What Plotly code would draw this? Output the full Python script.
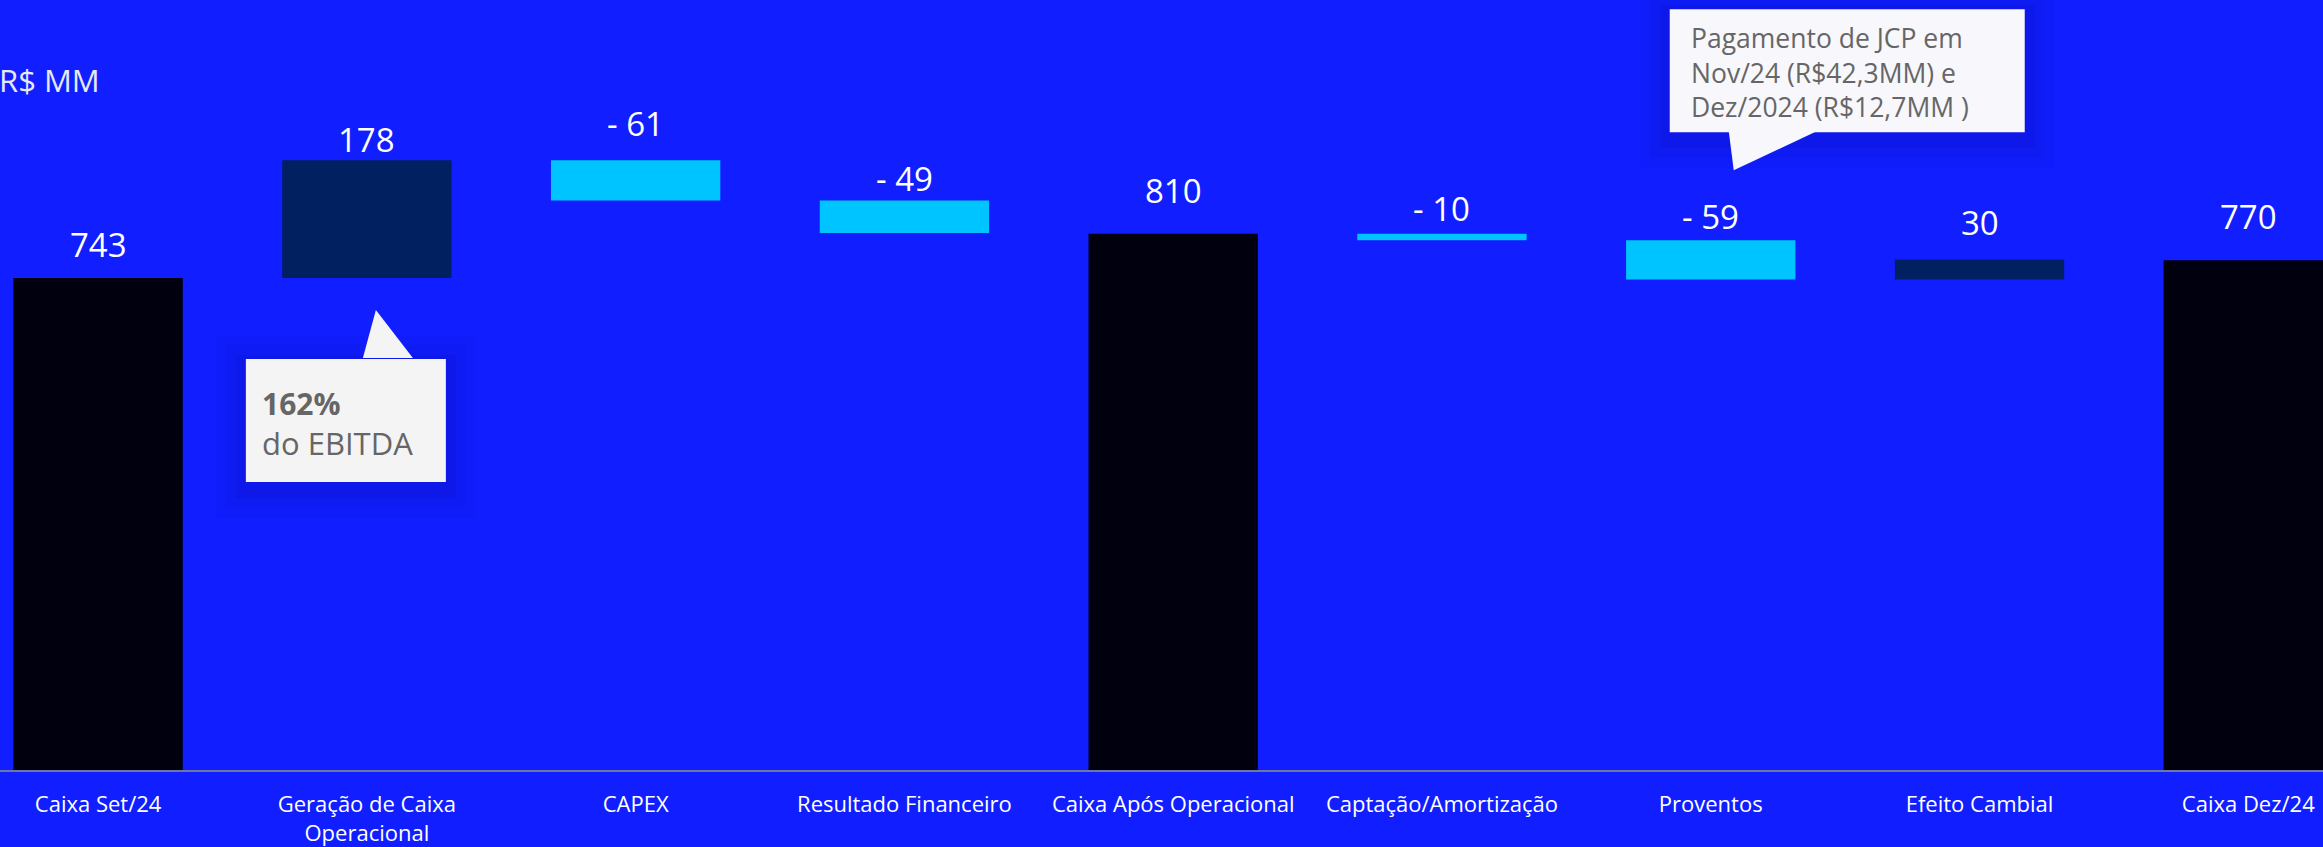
import plotly.graph_objects as go

# Cash bridge, R$ MM
categories = [
    "Caixa Set/24",
    "Geração de Caixa<br>Operacional",
    "CAPEX",
    "Resultado Financeiro",
    "Caixa Após Operacional",
    "Captação/Amortização",
    "Proventos",
    "Efeito Cambial",
    "Caixa Dez/24",
]
measures = ["absolute", "relative", "relative", "relative", "absolute",
            "relative", "relative", "relative", "absolute"]
values = [743, 178, -61, -49, 810, -10, -59, 30, 770]

unit_label = "R$ MM"
ebitda_note = ["162%", "do EBITDA"]
jcp_note = ["Pagamento de JCP em", "Nov/24 (R$42,3MM) e", "Dez/2024 (R$12,7MM )"]

# styling
BG = "#111EFF"
TOTAL = "#00000F"
UP = "#002060"
DOWN = "#00C4FF"
FONT = "Open Sans"
label_shift = [34, 21, 37, 22, 43, 25, 24, 37, 44]

x_idx = list(range(len(categories)))

fig = go.Figure(go.Waterfall(
    x=x_idx,
    y=values,
    measure=measures,
    totals=dict(marker=dict(color=TOTAL)),
    increasing=dict(marker=dict(color=UP)),
    decreasing=dict(marker=dict(color=DOWN)),
    connector=dict(visible=False),
    textinfo="none",
    hoverinfo="skip",
))

# value labels sit above the top edge of each bar
level = 0
annotations = []
for i, (m, v) in enumerate(zip(measures, values)):
    if m == "absolute":
        start, end = 0, v
        level = v
    else:
        start, end = level, level + v
        level = end
    top = max(start, end)
    txt = f"- {abs(v)}" if v < 0 else f"{v}"
    annotations.append(dict(
        x=i, y=top, xref="x", yref="y", text=txt, showarrow=False,
        yanchor="middle", yshift=label_shift[i],
        font=dict(family=FONT, size=33, color="white"),
    ))

# unit caption
annotations.append(dict(
    x=0, y=0.896, xref="paper", yref="paper", text=unit_label,
    showarrow=False, xanchor="left", yanchor="middle", xshift=-3,
    font=dict(family=FONT, size=31, color="#E6E8F5"),
))

shapes = []


def callout(xa, ya, box, tip, fill):
    """Speech-bubble anchored at a data point, geometry in pixels."""
    x0, x1, y0, y1 = box
    for k, a in ((30, 0.025), (20, 0.035), (10, 0.05)):
        shapes.append(dict(
            type="rect", xref="x", yref="y", xsizemode="pixel", ysizemode="pixel",
            xanchor=xa, yanchor=ya, x0=x0 - k, x1=x1 + k, y0=y0 - k - 6, y1=y1 + k - 6,
            fillcolor=f"rgba(0,0,60,{a})", line=dict(width=0),
        ))
    shapes.append(dict(
        type="rect", xref="x", yref="y", xsizemode="pixel", ysizemode="pixel",
        xanchor=xa, yanchor=ya, x0=x0, x1=x1, y0=y0, y1=y1,
        fillcolor=fill, line=dict(width=0),
    ))
    (ax, ay), (bx, by), (cx, cy) = tip
    shapes.append(dict(
        type="path", xref="x", yref="y", xsizemode="pixel", ysizemode="pixel",
        xanchor=xa, yanchor=ya,
        path=f"M {ax},{ay} L {bx},{by} L {cx},{cy} Z",
        fillcolor=fill, line=dict(width=0),
    ))


# EBITDA note under the operating cash generation bar
callout(1, values[0], (-121, 79, -204, -81),
        ((-4, -80), (9, -32), (46, -80)), "#F4F4F4")
annotations.append(dict(
    x=1, y=values[0], xref="x", yref="y", text=f"<b>{ebitda_note[0]}</b>",
    showarrow=False, xanchor="left", yanchor="middle", xshift=-107, yshift=-125,
    font=dict(family=FONT, size=30, color="#666666"),
))
annotations.append(dict(
    x=1, y=values[0], xref="x", yref="y", text=ebitda_note[1],
    showarrow=False, xanchor="left", yanchor="middle", xshift=-107, yshift=-165,
    font=dict(family=FONT, size=31, color="#666666"),
))

# JCP note above the Proventos bar
prov_top = values[4] + values[5]
callout(6, prov_top, (-41, 314, 108, 231),
        ((18, 109), (23, 70), (106, 109)), "#F8F7FC")
for j, line in enumerate(jcp_note):
    annotations.append(dict(
        x=6, y=prov_top, xref="x", yref="y", text=line,
        showarrow=False, xanchor="left", yanchor="middle",
        xshift=-22, yshift=202 - 34.5 * j,
        font=dict(family=FONT, size=26.5, color="#666666"),
    ))

fig.update_layout(
    width=2323, height=847,
    margin=dict(l=0, r=0, t=0, b=77),
    paper_bgcolor=BG, plot_bgcolor=BG,
    waterfallgap=0.37,
    showlegend=False,
    annotations=annotations,
    shapes=shapes,
    xaxis=dict(
        tickmode="array", tickvals=x_idx, ticktext=categories,
        range=[-0.365, 8.278], showgrid=False, zeroline=False,
        showline=True, linecolor="#6E76A2", linewidth=2,
        ticks="", ticklabelstandoff=14,
        tickfont=dict(family=FONT, size=22, color="white"),
    ),
    yaxis=dict(
        range=[0, 1163], visible=False, showgrid=False, zeroline=False,
    ),
)

fig.write_html("out.html")
